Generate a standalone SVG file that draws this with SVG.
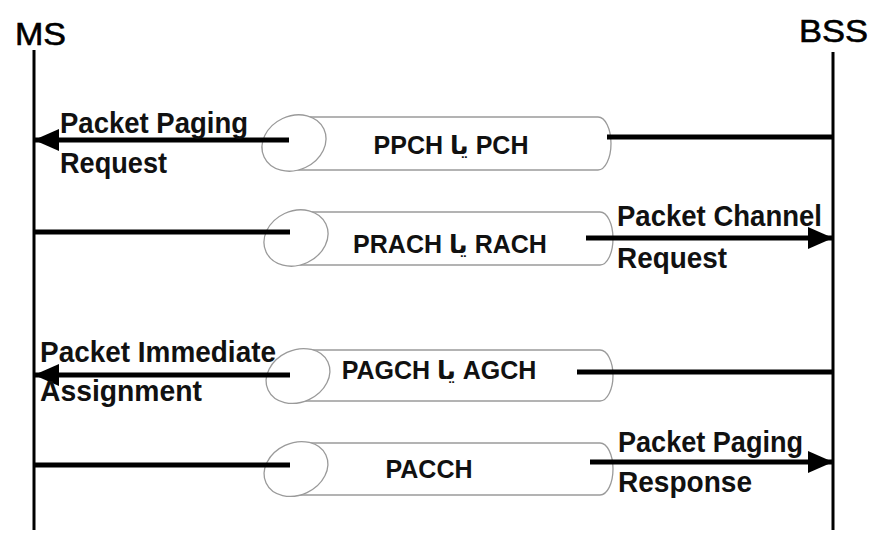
<svg xmlns="http://www.w3.org/2000/svg" width="873" height="540" viewBox="0 0 873 540">
<defs>
<style>
.life{stroke:#000;stroke-width:3;fill:none}
.head{font-family:"Liberation Sans","DejaVu Sans",sans-serif;font-size:31px;fill:#000;stroke:#000;stroke-width:0.6}
.lbl{font-family:"Liberation Sans","DejaVu Sans",sans-serif;font-size:29px;font-weight:bold;fill:#111}
.pipe{fill:#fff;stroke:#9a9a9a;stroke-width:1.3}
.ptxt{font-family:"Liberation Sans","DejaVu Sans",sans-serif;font-size:25px;font-weight:bold;fill:#111;text-anchor:middle}
.msg{stroke:#000;stroke-width:5;fill:none}
</style>
<marker id="ah" markerUnits="userSpaceOnUse" markerWidth="26" markerHeight="24" refX="25" refY="12" orient="auto">
<path d="M0,1 L25,12 L0,23 z" fill="#000"/>
</marker>
</defs>
<rect width="873" height="540" fill="#fff"/>

<g id="ms">
<text class="head" x="15" y="45" textLength="51" lengthAdjust="spacingAndGlyphs">MS</text>
<line class="life" x1="34" y1="50" x2="34" y2="530"/>
</g>
<g id="bss">
<text class="head" x="799" y="42" textLength="69" lengthAdjust="spacingAndGlyphs">BSS</text>
<line class="life" x1="833" y1="52" x2="833" y2="530"/>
</g>

<g id="pipe1">
<path class="pipe" d="M294,117 L598,117 A13,26.5 0 0 1 598,170 L294,170 Z"/>
<ellipse class="pipe" cx="294" cy="143" rx="33" ry="27" transform="rotate(-25 294 143)"/>
<text class="ptxt" x="451" y="154">PPCH یا PCH</text>
</g>
<g id="pipe2">
<path class="pipe" d="M296,212 L600,212 A13,26.5 0 0 1 600,265 L296,265 Z"/>
<ellipse class="pipe" cx="296" cy="238" rx="33" ry="27" transform="rotate(-25 296 238)"/>
<text class="ptxt" x="450" y="253">PRACH یا RACH</text>
</g>
<g id="pipe3">
<path class="pipe" d="M298,350 L600,350 A13,25.5 0 0 1 600,401 L298,401 Z"/>
<ellipse class="pipe" cx="298" cy="376" rx="33" ry="26" transform="rotate(-25 298 376)"/>
<text class="ptxt" x="439" y="379">PAGCH یا AGCH</text>
</g>
<g id="pipe4">
<path class="pipe" d="M296,443 L600,443 A13,26 0 0 1 600,495 L296,495 Z"/>
<ellipse class="pipe" cx="296" cy="469" rx="33" ry="26" transform="rotate(-25 296 469)"/>
<text class="ptxt" x="429" y="478">PACCH</text>
</g>

<g id="connectors">
<line class="msg" x1="289" y1="140" x2="34" y2="140" marker-end="url(#ah)"/>
<line class="msg" x1="607" y1="137" x2="833" y2="137"/>
<text class="lbl" x="60" y="133" textLength="188" lengthAdjust="spacingAndGlyphs">Packet Paging</text>
<text class="lbl" x="60" y="173" textLength="107" lengthAdjust="spacingAndGlyphs">Request</text>

<line class="msg" x1="34" y1="232" x2="290" y2="232"/>
<line class="msg" x1="586" y1="238" x2="833" y2="238" marker-end="url(#ah)"/>
<text class="lbl" x="617" y="226" textLength="205" lengthAdjust="spacingAndGlyphs">Packet Channel</text>
<text class="lbl" x="617" y="268" textLength="110" lengthAdjust="spacingAndGlyphs">Request</text>

<line class="msg" x1="290" y1="375" x2="34" y2="375" marker-end="url(#ah)"/>
<line class="msg" x1="577" y1="372" x2="833" y2="372"/>
<text class="lbl" x="40" y="362" textLength="236" lengthAdjust="spacingAndGlyphs">Packet Immediate</text>
<text class="lbl" x="40" y="401" textLength="162" lengthAdjust="spacingAndGlyphs">Assignment</text>

<line class="msg" x1="34" y1="465" x2="290" y2="465"/>
<line class="msg" x1="590" y1="462" x2="833" y2="462" marker-end="url(#ah)"/>
<text class="lbl" x="618" y="452" textLength="185" lengthAdjust="spacingAndGlyphs">Packet Paging</text>
<text class="lbl" x="618" y="492" textLength="134" lengthAdjust="spacingAndGlyphs">Response</text>
</g>
</svg>
